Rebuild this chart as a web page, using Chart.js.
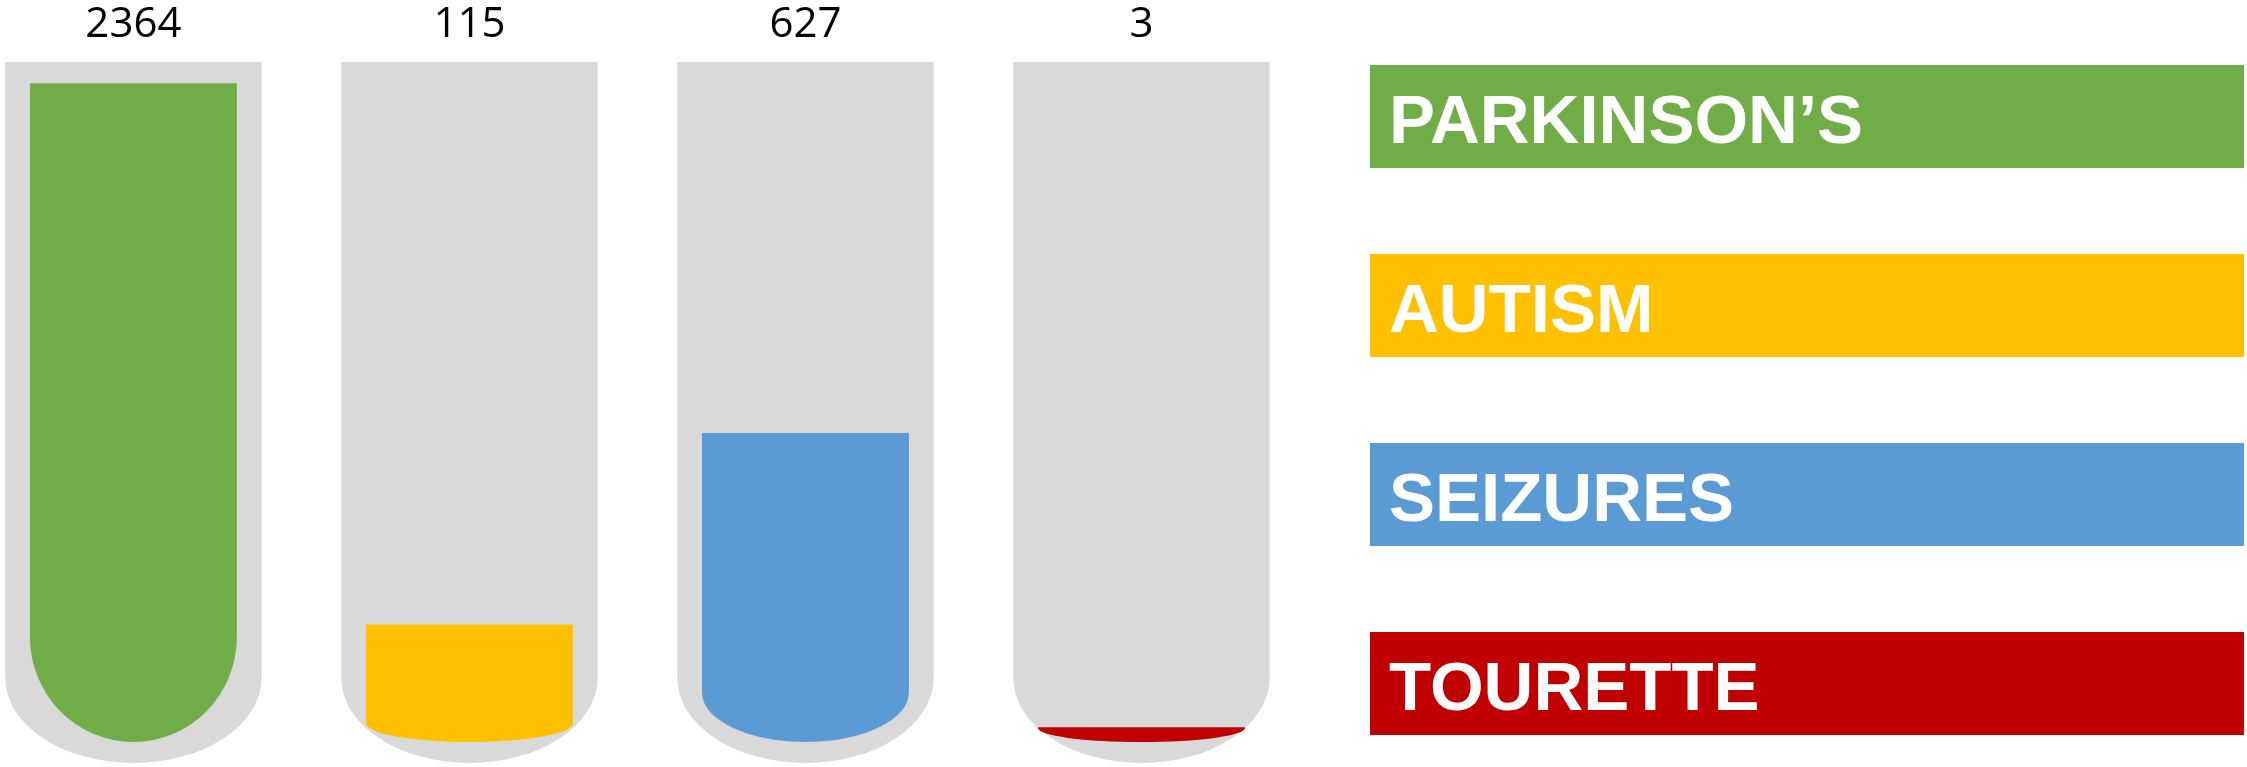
<!DOCTYPE html>
<html lang="en">
<head>
<meta charset="utf-8">
<title>Cases by condition</title>
<script src="https://cdn.jsdelivr.net/npm/chart.js@4.4.1/dist/chart.umd.min.js"></script>
<style>
    html, body {
        margin: 0;
        padding: 0;
        background: #ffffff;
    }
    #chart-wrap {
        position: relative;
        width: 2247px;
        height: 767px;
    }
</style>
</head>
<body>
<div id="chart-wrap">
    <canvas id="tubes-chart"></canvas>
</div>
<script>
/* global Chart */

// Data
const categories = ['PARKINSON\u2019S', 'AUTISM', 'SEIZURES', 'TOURETTE'];
const cases = [2364, 115, 627, 3];
const capacity = [2500, 2500, 2500, 2500];
const fillColors = ['#70AD47', '#FFC000', '#5B9BD5', '#C00000'];
const tubeColor = '#D9D9D9';

/**
 * Power scale (value^exponent) so small counts still show up in the tubes
 */
class PowerScale extends Chart.LinearScale {
    static id = 'power';
    static defaults = Chart.LinearScale.defaults;

    _pow(v) {
        return Math.pow(Math.max(v, 0), this.options.exponent || 0.5);
    }

    getPixelForValue(value) {
        const lo = this._pow(this.min);
        const hi = this._pow(this.max);
        return this.getPixelForDecimal((this._pow(value) - lo) / (hi - lo));
    }

    getValueForPixel(pixel) {
        const lo = this._pow(this.min);
        const hi = this._pow(this.max);
        const d = this.getDecimalForPixel(pixel);
        return Math.pow(lo + d * (hi - lo), 1 / (this.options.exponent || 0.5));
    }
}
Chart.register(PowerScale);

/**
 * Straight-sided shape with a half-ellipse bottom
 */
function tubePath(ctx, left, right, top, bottom, ry) {
    const cx = (left + right) / 2;
    const rx = (right - left) / 2;
    const r = Math.min(ry, bottom - top);
    const yEnd = bottom - r;
    ctx.beginPath();
    ctx.moveTo(left, top);
    ctx.lineTo(right, top);
    ctx.lineTo(right, yEnd);
    ctx.ellipse(cx, yEnd, rx, r, 0, 0, Math.PI);
    ctx.lineTo(left, top);
    ctx.closePath();
}

// Replaces the plain bars with tube shapes
const tubeShapes = {
    id: 'tubeShapes',
    beforeDatasetDraw(chart, args) {
        const ctx = chart.ctx;
        const ds = chart.data.datasets[args.index];
        ctx.save();
        args.meta.data.forEach((bar, i) => {
            const left = bar.x - bar.width / 2;
            const right = bar.x + bar.width / 2;
            if (ds.isTube) {
                tubePath(ctx, left, right, bar.y, bar.base + 21, 85);
                ctx.fillStyle = tubeColor;
            } else {
                const h = bar.base - bar.y;
                tubePath(ctx, left, right, bar.y, bar.base, Math.max(h * 0.16, 14));
                ctx.fillStyle = fillColors[i];
            }
            ctx.fill();
        });
        ctx.restore();
        return false;
    }
};

// Count above each tube and the coloured legend blocks on the right
const annotations = {
    id: 'annotations',
    afterDraw(chart) {
        const ctx = chart.ctx;
        const tubes = chart.getDatasetMeta(1).data;

        ctx.save();
        ctx.fillStyle = '#000000';
        ctx.font = '42px "Open Sans"';
        ctx.textAlign = 'center';
        ctx.textBaseline = 'alphabetic';
        tubes.forEach((bar, i) => {
            ctx.fillText(String(cases[i]), bar.x, bar.y - 25);
        });

        ctx.font = 'bold 69px "Liberation Sans", Arial, sans-serif';
        ctx.textAlign = 'left';
        categories.forEach((label, i) => {
            const top = 65 + i * 189;
            ctx.fillStyle = fillColors[i];
            ctx.fillRect(1370, top, 874, 103);
            ctx.fillStyle = '#ffffff';
            ctx.fillText(label, 1389, top + 78);
        });
        ctx.restore();
    }
};

// Tubes sit on a numeric x axis: one unit per condition
const points = arr => arr.map((v, i) => ({ x: i, y: v }));

const ctx = document.getElementById('tubes-chart').getContext('2d');

new Chart(ctx, {
    type: 'bar',
    data: {
        datasets: [
            {
                label: 'Cases',
                data: points(cases),
                backgroundColor: fillColors,
                grouped: false,
                categoryPercentage: 1,
                barPercentage: 0.616,
            },
            {
                label: 'Tube',
                data: points(capacity),
                isTube: true,
                backgroundColor: tubeColor,
                grouped: false,
                categoryPercentage: 1,
                barPercentage: 0.763,
            }
        ]
    },
    options: {
        responsive: true,
        maintainAspectRatio: false,
        animation: false,
        layout: {
            padding: { left: 0, right: 937.5, top: 62, bottom: 25 }
        },
        plugins: {
            legend: { display: false },
            tooltip: { enabled: false }
        },
        scales: {
            x: {
                type: 'linear',
                display: false,
                offset: false,
                min: -0.397,
                max: 3.5,
                // one tick per tube, so bar widths follow the tube spacing
                afterBuildTicks: scale => {
                    scale.ticks = categories.map((c, i) => ({ value: i }));
                },
                grid: { display: false }
            },
            y: {
                type: 'power',
                exponent: 0.57,
                display: false,
                min: 0,
                max: 2500,
                grid: { display: false }
            }
        }
    },
    plugins: [tubeShapes, annotations]
});
</script>
</body>
</html>
